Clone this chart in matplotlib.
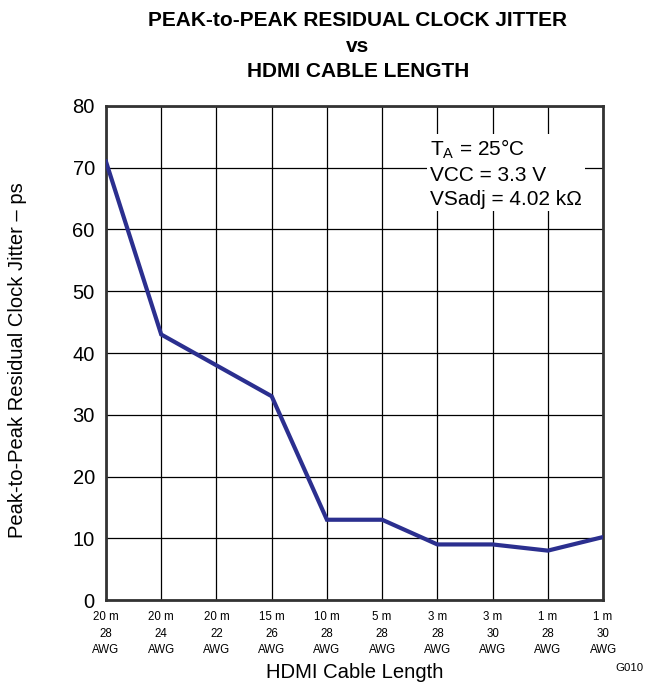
import matplotlib
matplotlib.use('Agg')
import matplotlib.pyplot as plt

matplotlib.rc('font', family='Liberation Sans')

# cable types along the x axis
cable_len = ['20 m', '20 m', '20 m', '15 m', '10 m', '5 m', '3 m', '3 m', '1 m', '1 m']
cable_awg = ['28', '24', '22', '26', '28', '28', '28', '30', '28', '30']
jitter_ps = [71, 43, 38, 33, 13, 13, 9, 9, 8, 10.2]

LINE_COLOR = '#2b2f8f'

fig = plt.figure(figsize=(6.45, 6.82), dpi=100)
ax = fig.add_axes([0.1643, 0.1202, 0.7707, 0.7244])

xs = list(range(len(jitter_ps)))
ax.plot(xs, jitter_ps, color=LINE_COLOR, linewidth=3.0, solid_joinstyle='miter',
        zorder=3)

ax.set_xlim(0, len(xs) - 1)
ax.set_ylim(0, 80)
ax.set_yticks(range(0, 81, 10))
ax.set_xticks(xs)
ax.set_xticklabels([l + '\n' + a + '\nAWG' for l, a in zip(cable_len, cable_awg)],
                   fontsize=8.3, linespacing=1.5)
ax.tick_params(axis='y', labelsize=14.5, length=0, pad=8)
ax.tick_params(axis='x', length=0, pad=8)
ax.grid(True, color='black', linewidth=0.9)

for sp in ax.spines.values():
    sp.set_linewidth(2)
    sp.set_color('#333333')

ax.set_xlabel('HDMI Cable Length', fontsize=14.6, labelpad=5)
ax.set_ylabel('Peak-to-Peak Residual Clock Jitter \u2013 ps', fontsize=14.5)
ax.yaxis.set_label_coords(-0.158, 0.485)

fig.text(0.555, 0.984, 'PEAK-to-PEAK RESIDUAL CLOCK JITTER\nvs\nHDMI CABLE LENGTH',
         ha='center', va='top', fontsize=15, fontweight='bold', linespacing=1.45)

ax.text(0.652, 0.936, '$\\mathregular{T_A}$ = 25\u00b0C\nVCC = 3.3 V\nVSadj = 4.02 k\u03a9',
        transform=ax.transAxes, ha='left', va='top', fontsize=15, linespacing=1.32,
        bbox=dict(facecolor='white', edgecolor='none', pad=2), zorder=4)

fig.text(0.997, 0.013, 'G010', ha='right', va='bottom', fontsize=8.2)

plt.savefig('out.png', dpi=100)
plt.close()
